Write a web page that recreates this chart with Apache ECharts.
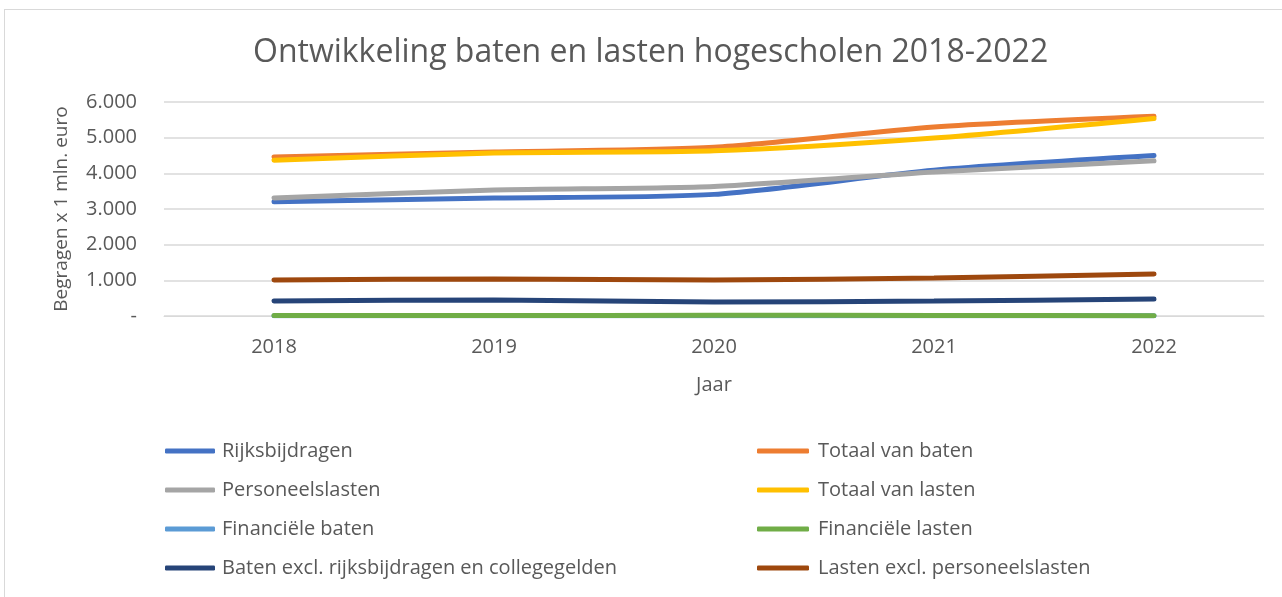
<!DOCTYPE html>
<html>
<head>
<meta charset="utf-8">
<script src="https://cdn.jsdelivr.net/npm/echarts@6/dist/echarts.min.js"></script>
<style>
  html, body { margin: 0; padding: 0; background: #fff; }
  #frame { position: absolute; left: 4px; top: 9px; width: 1290px; height: 600px; border: 1px solid #d9d9d9; }
  #chart { position: absolute; left: 0; top: 0; width: 1282px; height: 597px; }
</style>
</head>
<body>
<div id="frame"></div>
<div id="chart"></div>
<script>
// jaren en waarden (x 1 mln. euro)
const years = ['2018', '2019', '2020', '2021', '2022'];
const rijksbijdragen = [3200, 3310, 3410, 4090, 4500];
const totaalBaten = [4460, 4600, 4730, 5300, 5600];
const personeelslasten = [3310, 3530, 3630, 4040, 4350];
const totaalLasten = [4370, 4570, 4630, 4990, 5540];
const financieleBaten = [5, 5, 5, 5, 5];
const financieleLasten = [15, 15, 20, 15, 10];
const batenExcl = [420, 450, 390, 420, 475];
const lastenExcl = [1010, 1040, 1010, 1065, 1180];
const yTicks = [0, 1000, 2000, 3000, 4000, 5000, 6000];

const textColor = '#595959';
const font = 'Open Sans';

function line(name, data, color) {
  return {
    name: name, type: 'line', data: data, smooth: 0.25,
    symbol: 'none', lineStyle: { width: 5, color: color, cap: 'round' },
    itemStyle: { color: color }
  };
}

const chart = echarts.init(document.getElementById('chart'));
chart.setOption({
  backgroundColor: 'transparent',
  animation: false,
  title: {
    text: 'Ontwikkeling baten en lasten hogescholen 2018-2022',
    left: 248, top: 32,
    textStyle: { fontFamily: font, fontSize: 32, fontWeight: 'normal', color: textColor }
  },
  grid: { left: 164, right: 18, top: 102, bottom: 281 },
  xAxis: {
    type: 'category', data: years, boundaryGap: true,
    name: 'Jaar', nameLocation: 'middle', nameGap: 59,
    nameTextStyle: { fontFamily: font, fontSize: 20, color: textColor },
    axisLine: { show: true, lineStyle: { color: '#d9d9d9', width: 1 } },
    axisTick: { show: false },
    axisLabel: { fontFamily: font, fontSize: 20, color: textColor, margin: 21 }
  },
  yAxis: {
    type: 'value', min: yTicks[0], max: yTicks[yTicks.length - 1], interval: 1000,
    name: 'Begragen x 1 mln. euro', nameLocation: 'middle', nameGap: 93,
    nameTextStyle: { fontFamily: font, fontSize: 19, color: textColor },
    axisLine: { show: false }, axisTick: { show: false },
    splitLine: { lineStyle: { color: '#d9d9d9', width: 1.5 } },
    axisLabel: {
      fontFamily: font, fontSize: 20, color: textColor, margin: 27,
      formatter: v => v === 0 ? '-' : (v / 1000).toFixed(0) + '.000'
    }
  },
  legend: [
    {
      data: ['Rijksbijdragen', 'Personeelslasten', 'Financiële baten', 'Baten excl. rijksbijdragen en collegegelden'],
      orient: 'vertical', left: 160, top: 436, itemGap: 19,
      icon: 'roundRect', itemWidth: 50, itemHeight: 5,
      textStyle: { fontFamily: font, fontSize: 20, color: textColor, padding: [0, 0, 0, 2] }
    },
    {
      data: ['Totaal van baten', 'Totaal van lasten', 'Financiële lasten', 'Lasten excl. personeelslasten'],
      orient: 'vertical', left: 752, top: 436, itemGap: 19,
      icon: 'roundRect', itemWidth: 52, itemHeight: 5,
      textStyle: { fontFamily: font, fontSize: 20, color: textColor, padding: [0, 0, 0, 4] }
    }
  ],
  series: [
    line('Rijksbijdragen', rijksbijdragen, '#4472C4'),
    line('Totaal van baten', totaalBaten, '#ED7D31'),
    line('Personeelslasten', personeelslasten, '#A5A5A5'),
    line('Totaal van lasten', totaalLasten, '#FFC000'),
    line('Financiële baten', financieleBaten, '#5B9BD5'),
    line('Financiële lasten', financieleLasten, '#70AD47'),
    line('Baten excl. rijksbijdragen en collegegelden', batenExcl, '#264478'),
    line('Lasten excl. personeelslasten', lastenExcl, '#9E480E')
  ]
});
</script>
</body>
</html>
